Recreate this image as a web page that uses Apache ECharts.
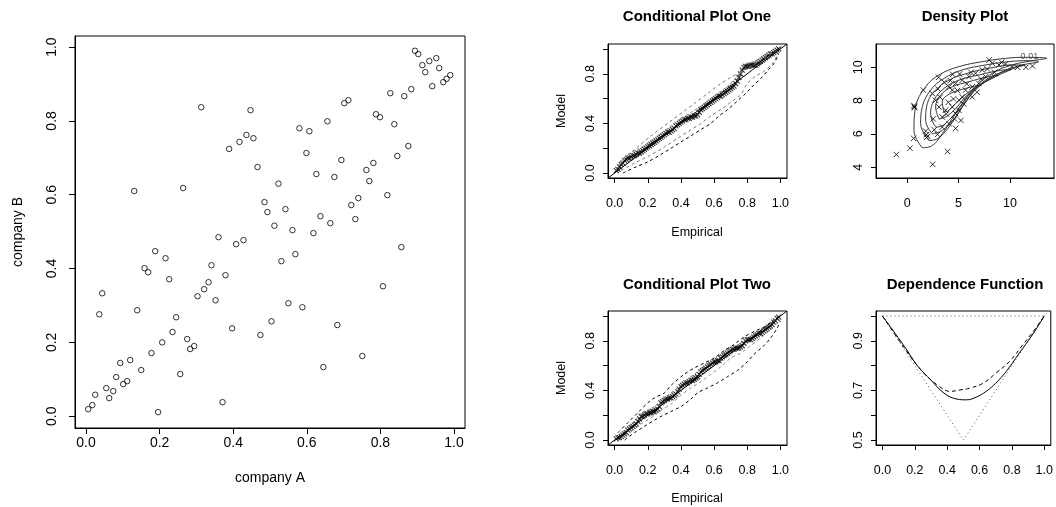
<!DOCTYPE html>
<html>
<head>
<meta charset="utf-8">
<script src="https://cdn.jsdelivr.net/npm/echarts@6/dist/echarts.min.js"></script>
<style>
html, body { margin: 0; padding: 0; background: #fff; }
#chart { width: 1056px; height: 507px; }
</style>
</head>
<body>
<div id="chart"></div>
<script>
// scatter: company A vs company B
var companyA = [0.313,0.447,0.436,0.455,0.417,0.389,0.466,0.523,0.131,0.264,0.485,0.493,0.542,0.512,0.561,0.618,0.637,0.664,0.721,0.732,0.740,0.531,0.569,0.857,0.807,0.550,0.588,0.504,0.474,0.683,0.751,0.645,0.360,0.408,0.428,0.341,0.379,0.333,0.321,0.303,0.352,0.397,0.371,0.188,0.216,0.159,0.169,0.226,0.139,0.044,0.036,0.245,0.235,0.207,0.275,0.283,0.294,0.178,0.256,0.150,0.120,0.093,0.082,0.112,0.101,0.055,0.074,0.063,0.025,0.017,0.006,0.196,0.894,0.903,0.914,0.933,0.952,0.922,0.960,0.941,0.971,0.980,0.990,0.827,0.865,0.884,0.702,0.713,0.788,0.799,0.838,0.656,0.580,0.607,0.599,0.694,0.626,0.675,0.781,0.762,0.770,0.846,0.876,0.819];
var companyB = [0.837,0.829,0.762,0.753,0.743,0.724,0.675,0.630,0.610,0.618,0.580,0.553,0.561,0.516,0.504,0.496,0.542,0.523,0.572,0.534,0.591,0.420,0.439,0.458,0.352,0.306,0.295,0.257,0.220,0.247,0.163,0.133,0.485,0.466,0.477,0.409,0.382,0.363,0.344,0.325,0.314,0.238,0.038,0.447,0.428,0.401,0.390,0.371,0.287,0.333,0.276,0.268,0.228,0.200,0.209,0.182,0.190,0.171,0.114,0.125,0.152,0.144,0.106,0.095,0.087,0.076,0.068,0.049,0.058,0.030,0.019,0.011,0.990,0.981,0.951,0.962,0.970,0.932,0.943,0.894,0.905,0.914,0.924,0.875,0.867,0.886,0.848,0.856,0.818,0.810,0.791,0.799,0.780,0.772,0.713,0.694,0.656,0.648,0.686,0.667,0.637,0.705,0.732,0.599];

// conditional plot one
var condX = [0.01,0.02,0.03,0.04,0.05,0.06,0.07,0.08,0.09,0.10,0.11,0.12,0.13,0.14,0.15,0.16,0.17,0.18,0.19,0.20,0.21,0.22,0.23,0.24,0.25,0.26,0.27,0.28,0.29,0.30,0.31,0.32,0.33,0.34,0.35,0.36,0.37,0.38,0.39,0.40,0.41,0.42,0.43,0.44,0.45,0.46,0.47,0.48,0.49,0.50,0.51,0.52,0.53,0.54,0.55,0.56,0.57,0.58,0.59,0.60,0.61,0.62,0.63,0.64,0.65,0.66,0.67,0.68,0.69,0.70,0.71,0.72,0.73,0.74,0.75,0.76,0.77,0.78,0.79,0.80,0.81,0.82,0.83,0.84,0.85,0.86,0.87,0.88,0.89,0.90,0.91,0.92,0.93,0.94,0.95,0.96,0.97,0.98,0.99];
var condOneY = [0.02,0.03,0.05,0.07,0.08,0.10,0.11,0.12,0.12,0.13,0.14,0.14,0.15,0.16,0.16,0.17,0.18,0.19,0.20,0.21,0.22,0.23,0.24,0.25,0.26,0.27,0.28,0.29,0.30,0.31,0.32,0.33,0.33,0.34,0.35,0.36,0.38,0.39,0.40,0.41,0.42,0.43,0.43,0.44,0.44,0.45,0.45,0.46,0.46,0.47,0.49,0.51,0.52,0.53,0.54,0.55,0.56,0.57,0.58,0.59,0.60,0.61,0.62,0.62,0.63,0.64,0.65,0.66,0.67,0.68,0.69,0.70,0.72,0.74,0.77,0.80,0.83,0.85,0.86,0.86,0.86,0.87,0.87,0.87,0.87,0.88,0.89,0.90,0.91,0.92,0.93,0.94,0.95,0.96,0.96,0.97,0.98,0.99,1.00];
var oneUpOutX = [0.01,0.06,0.13,0.22,0.34,0.42,0.48,0.56,0.64,0.70,0.78,0.86,0.92,0.98];
var oneUpOutY = [0.03,0.12,0.20,0.30,0.42,0.50,0.56,0.64,0.72,0.77,0.83,0.89,0.94,0.99];
var oneUpInX = [0.02,0.08,0.15,0.22,0.30,0.38,0.45,0.52,0.60,0.68,0.74,0.78,0.84,0.90,0.96];
var oneUpInY = [0.06,0.15,0.20,0.26,0.34,0.42,0.48,0.54,0.62,0.70,0.78,0.87,0.90,0.94,0.98];
var oneLoInX = [0.04,0.12,0.21,0.30,0.38,0.45,0.52,0.58,0.65,0.72,0.76,0.80,0.85,0.90,0.95,0.99];
var oneLoInY = [0.02,0.08,0.14,0.21,0.28,0.34,0.40,0.46,0.52,0.59,0.63,0.72,0.78,0.82,0.88,0.97];
var oneLoOutX = [0.05,0.13,0.20,0.28,0.34,0.40,0.46,0.52,0.58,0.63,0.68,0.74,0.79,0.84,0.88,0.92,0.96,0.99];
var oneLoOutY = [0.00,0.05,0.09,0.15,0.20,0.25,0.30,0.35,0.40,0.46,0.51,0.58,0.64,0.71,0.76,0.82,0.88,0.96];

// conditional plot two
var condTwoY = [0.01,0.02,0.02,0.03,0.04,0.05,0.06,0.08,0.09,0.10,0.11,0.12,0.13,0.15,0.17,0.19,0.19,0.20,0.21,0.21,0.22,0.22,0.23,0.23,0.24,0.25,0.27,0.30,0.31,0.32,0.33,0.33,0.34,0.34,0.35,0.36,0.37,0.39,0.41,0.43,0.44,0.45,0.46,0.46,0.47,0.48,0.48,0.49,0.50,0.51,0.53,0.55,0.56,0.57,0.58,0.59,0.60,0.61,0.62,0.63,0.63,0.64,0.64,0.66,0.67,0.68,0.69,0.70,0.71,0.72,0.73,0.73,0.74,0.74,0.74,0.75,0.76,0.78,0.80,0.81,0.81,0.81,0.82,0.83,0.84,0.85,0.86,0.86,0.87,0.88,0.89,0.90,0.91,0.92,0.93,0.95,0.96,0.98,0.99];
var twoUpOutX = [0.02,0.08,0.14,0.20,0.24,0.30,0.34,0.42,0.48,0.54,0.60,0.66,0.72,0.78,0.85,0.90,0.95,0.99];
var twoUpOutY = [0.06,0.14,0.22,0.30,0.34,0.38,0.44,0.53,0.58,0.62,0.66,0.72,0.77,0.83,0.88,0.91,0.95,0.99];
var twoUpInX = [0.04,0.10,0.16,0.24,0.30,0.38,0.44,0.50,0.56,0.62,0.68,0.76,0.84,0.92,0.98];
var twoUpInY = [0.05,0.12,0.21,0.27,0.34,0.42,0.49,0.55,0.61,0.67,0.72,0.78,0.85,0.92,0.98];
var twoLoInX = [0.04,0.10,0.16,0.22,0.28,0.34,0.40,0.46,0.52,0.58,0.64,0.70,0.76,0.82,0.88,0.94,0.99];
var twoLoInY = [0.01,0.07,0.13,0.18,0.24,0.29,0.36,0.42,0.47,0.53,0.59,0.66,0.70,0.76,0.82,0.89,0.97];
var twoLoOutX = [0.06,0.12,0.18,0.24,0.28,0.34,0.40,0.46,0.50,0.56,0.62,0.68,0.74,0.80,0.84,0.90,0.94,0.98,1.00];
var twoLoOutY = [0.00,0.06,0.11,0.16,0.19,0.23,0.27,0.33,0.38,0.42,0.46,0.51,0.56,0.63,0.69,0.76,0.82,0.90,0.96];

var diagLine = [-0.04, 1.04];

// density plot
var densX = [-1.07,0.26,0.62,0.65,0.71,0.68,1.56,1.79,1.85,1.88,2.00,2.47,2.63,2.53,3.05,2.95,3.93,4.42,4.71,5.23,7.98,10.75,11.56,12.20,2.44,2.76,3.08,3.41,3.73,4.06,4.38,4.71,5.03,5.36,5.68,6.01,6.33,6.66,6.98,7.31,7.63,8.28,8.93,9.58,10.20,4.38,4.71,4.06,3.41,5.03,5.36,6.33,3.20,3.60,4.00,4.50,4.90,5.50,5.80,6.20,6.80,7.20,7.80,8.50,9.20,4.20,3.00,5.10,4.60,3.80];
var densY = [4.76,5.14,5.73,7.70,7.58,7.64,8.63,6.17,5.95,5.79,5.85,4.17,6.25,6.90,9.40,5.97,4.94,9.58,6.33,6.81,10.44,10.00,10.00,10.08,8.43,8.02,7.62,7.01,7.42,8.83,8.63,9.03,8.02,9.23,8.63,9.44,8.83,9.64,9.03,9.84,9.44,10.24,10.14,10.20,10.04,7.62,7.22,6.61,6.41,7.42,8.22,8.22,8.20,9.10,7.90,8.10,8.60,7.80,9.00,9.70,8.50,9.30,9.90,9.70,10.30,9.20,8.70,9.60,6.90,7.20];
var contour1X = [1.46,0.65,0.81,1.79,3.08,5.03,7.31,9.58,11.5,13.6,12.2,10.2,8.28,6.33,4.71,3.41,2.44,1.46];
var contour1Y = [5.16,6.20,7.62,8.83,9.54,10.04,10.34,10.54,10.60,10.54,10.40,10.14,9.64,8.63,7.22,6.01,5.30,5.16];
var contour2X = [2.11,1.30,1.46,2.27,3.57,5.36,7.63,9.90,11.85,12.8,11.2,9.25,6.98,5.36,4.06,2.92,2.11];
var contour2Y = [5.60,6.61,7.62,8.63,9.33,9.84,10.14,10.34,10.40,10.34,10.14,9.74,8.83,7.62,6.41,5.70,5.60];
var contour3X = [2.44,1.79,1.95,2.76,4.06,5.84,7.95,10.2,11.5,9.90,7.63,6.00,4.71,3.41,2.44];
var contour3Y = [6.00,6.81,7.82,8.63,9.23,9.64,9.94,10.14,10.14,9.84,9.23,8.22,7.01,6.21,6.00];
var contour4X = [2.76,2.27,2.60,3.57,5.03,6.98,8.93,10.2,8.60,6.66,5.36,4.22,3.25,2.76];
var contour4Y = [6.41,7.22,8.02,8.73,9.23,9.54,9.80,9.88,9.44,8.73,7.82,6.92,6.45,6.41];
var contour5X = [3.08,2.76,3.25,4.38,6.00,7.63,8.93,7.31,5.84,4.71,3.73,3.08];
var contour5Y = [6.92,7.62,8.33,8.83,9.13,9.40,9.54,9.03,8.33,7.52,7.01,6.92];
var contour6X = [3.57,3.41,4.22,5.68,6.98,6.01,4.87,4.06,3.57];
var contour6Y = [7.32,7.92,8.43,8.73,8.93,8.53,7.92,7.42,7.32];
var contourLabel = '0.01';
var contourLabelPos = [11.9, 10.62];

// dependence function
var depSolidX = [0,0.057,0.137,0.218,0.299,0.38,0.46,0.52,0.58,0.64,0.70,0.764,0.844,0.925,1];
var depSolidY = [1,0.949,0.876,0.798,0.742,0.689,0.665,0.662,0.673,0.696,0.729,0.776,0.849,0.923,1];
var depDashX = [0,0.137,0.238,0.339,0.42,0.48,0.54,0.622,0.70,0.784,0.865,0.945,1];
var depDashY = [1,0.869,0.782,0.722,0.696,0.702,0.709,0.729,0.769,0.816,0.882,0.949,1];
var depUpperX = [0, 1];
var depUpperY = [1, 1];
var depLowerX = [0, 0.5, 1];
var depLowerY = [1, 0.5, 1];

// tick labels
var unitTicks = [0, 0.2, 0.4, 0.6, 0.8, 1.0];
var condYLabels = [0, 0.4, 0.8];
var densXTicks = [0, 5, 10];
var densYTicks = [4, 6, 8, 10];
var depYTicks = [0.5, 0.6, 0.7, 0.8, 0.9, 1.0];
var depYLabels = [0.5, 0.7, 0.9];

function zip(xs, ys) {
    var res = [];
    for (var i = 0; i < xs.length; i++) res.push([xs[i], ys[i]]);
    return res;
}

var FONT = '"Liberation Sans", Arial, Helvetica, sans-serif';
var one = function(v) { return Number(v).toFixed(1); };
var whole = function(v) { return String(Math.round(v)); };

var grids = [
    {left: 75, top: 36, width: 390, height: 392},
    {left: 608, top: 44, width: 179, height: 134},
    {left: 876, top: 44, width: 178, height: 134},
    {left: 608, top: 311, width: 179, height: 134},
    {left: 876, top: 311, width: 178, height: 134}
];
grids.forEach(function(g) {
    g.show = true;
    g.borderColor = '#000';
    g.borderWidth = 1;
    g.backgroundColor = 'transparent';
    g.containLabel = false;
});

function axis(gi, min, max, ticks, labels, fmt, o) {
    return {
        type: 'value', gridIndex: gi, min: min, max: max,
        splitLine: {show: false},
        axisLine: {show: true, onZero: false, lineStyle: {color: '#000', width: 1}},
        axisTick: {show: true, inside: false, length: o.tick, customValues: ticks,
                   lineStyle: {color: '#000', width: 1}},
        axisLabel: {show: true, customValues: labels, formatter: fmt, margin: o.margin,
                    rotate: o.rotate || 0, color: '#000', fontSize: o.size, fontFamily: FONT}
    };
}

var bigX = {tick: 6, margin: 8, size: 14};
var bigY = {tick: 6, margin: 16, size: 14, rotate: 90};
var smX = {tick: 5, margin: 19, size: 12.5};
var smY = {tick: 5, margin: 11, size: 12.5, rotate: 90};

var xAxes = [
    axis(0, -0.03, 1.03, unitTicks, unitTicks, one, bigX),
    axis(1, -0.04, 1.04, unitTicks, unitTicks, one, smX),
    axis(2, -3.05, 14.3, densXTicks, densXTicks, whole, smX),
    axis(3, -0.04, 1.04, unitTicks, unitTicks, one, smX),
    axis(4, -0.04, 1.04, unitTicks, unitTicks, one, smX)
];
var yAxes = [
    axis(0, -0.032, 1.03, unitTicks, unitTicks, one, bigY),
    axis(1, -0.04, 1.04, unitTicks, condYLabels, one, smY),
    axis(2, 3.35, 11.4, densYTicks, densYTicks, whole, smY),
    axis(3, -0.04, 1.04, unitTicks, condYLabels, one, smY),
    axis(4, 0.48, 1.02, depYTicks, depYLabels, one, smY)
];

var crossPath = 'path://M0,0L10,10M10,0L0,10';

function crosses(gi, data, size, bw) {
    return {
        type: 'scatter', xAxisIndex: gi, yAxisIndex: gi, data: data,
        symbol: crossPath, symbolSize: size, silent: true,
        itemStyle: {color: 'rgba(0,0,0,0)', borderColor: '#000', borderWidth: bw}
    };
}

function line(gi, data, color, width, type, smooth) {
    return {
        type: 'line', xAxisIndex: gi, yAxisIndex: gi, data: data,
        symbol: 'none', showSymbol: false, silent: true, smooth: smooth || false,
        lineStyle: {color: color, width: width, type: type}
    };
}

var series = [
    {
        type: 'scatter', xAxisIndex: 0, yAxisIndex: 0,
        data: zip(companyA, companyB),
        symbol: 'circle', symbolSize: 5.5, silent: true,
        itemStyle: {color: 'rgba(0,0,0,0)', borderColor: '#000', borderWidth: 1}
    },
    // conditional plot one
    line(1, zip(diagLine, diagLine), '#000', 1, 'solid'),
    line(1, zip(oneUpOutX, oneUpOutY), '#777', 1, [3, 3], 0.3),
    line(1, zip(oneUpInX, oneUpInY), '#888', 1, [3, 2], 0.3),
    line(1, zip(oneLoInX, oneLoInY), '#777', 1, [3, 3], 0.3),
    line(1, zip(oneLoOutX, oneLoOutY), '#000', 1, [3, 3], 0.3),
    crosses(1, zip(condX, condOneY), 5, 1.1),
    // conditional plot two
    line(3, zip(diagLine, diagLine), '#000', 1, 'solid'),
    line(3, zip(twoUpOutX, twoUpOutY), '#000', 1, [3, 3], 0.3),
    line(3, zip(twoUpInX, twoUpInY), '#777', 1, [3, 2], 0.3),
    line(3, zip(twoLoInX, twoLoInY), '#888', 1, [3, 3], 0.3),
    line(3, zip(twoLoOutX, twoLoOutY), '#000', 1, [3, 3], 0.3),
    crosses(3, zip(condX, condTwoY), 5, 1.1),
    // density plot
    line(2, zip(contour1X, contour1Y), '#222', 0.9, 'solid', 0.4),
    line(2, zip(contour2X, contour2Y), '#222', 0.9, 'solid', 0.4),
    line(2, zip(contour3X, contour3Y), '#222', 0.9, 'solid', 0.4),
    line(2, zip(contour4X, contour4Y), '#222', 0.9, 'solid', 0.4),
    line(2, zip(contour5X, contour5Y), '#222', 0.9, 'solid', 0.4),
    line(2, zip(contour6X, contour6Y), '#222', 0.9, 'solid', 0.4),
    crosses(2, zip(densX, densY), 5.5, 1),
    {
        type: 'scatter', xAxisIndex: 2, yAxisIndex: 2, silent: true,
        data: [contourLabelPos], symbolSize: 0,
        label: {show: true, position: 'inside', formatter: contourLabel,
                color: '#333', fontSize: 9, fontFamily: FONT}
    },
    // dependence function
    line(4, zip(depUpperX, depUpperY), '#555', 1, [1, 3]),
    line(4, zip(depLowerX, depLowerY), '#555', 1, [1, 3]),
    line(4, zip(depDashX, depDashY), '#000', 1, [4, 3], 0.4),
    line(4, zip(depSolidX, depSolidY), '#000', 1, 'solid', 0.4)
];

function txt(x, y, s, size, bold, rot) {
    return {
        type: 'text', x: x, y: y, rotation: rot || 0, silent: true,
        style: {text: s, fill: '#000', align: 'center', verticalAlign: 'middle',
                font: (bold ? 'bold ' : '') + size + 'px ' + FONT}
    };
}

var graphics = [
    txt(270, 478, 'company A', 14, false),
    txt(18, 232, 'company B', 14, false, Math.PI / 2),
    txt(697, 17, 'Conditional Plot One', 15, true),
    txt(965, 17, 'Density Plot', 15, true),
    txt(697, 285, 'Conditional Plot Two', 15, true),
    txt(965, 285, 'Dependence Function', 15, true),
    txt(697, 233, 'Empirical', 12.5, false),
    txt(697, 499, 'Empirical', 12.5, false),
    txt(562, 111, 'Model', 12.5, false, Math.PI / 2),
    txt(562, 378, 'Model', 12.5, false, Math.PI / 2)
];

var chart = echarts.init(document.getElementById('chart'), null, {renderer: 'canvas'});
chart.setOption({
    animation: false,
    backgroundColor: '#fff',
    textStyle: {fontFamily: FONT, color: '#000'},
    grid: grids,
    xAxis: xAxes,
    yAxis: yAxes,
    series: series,
    graphic: graphics
});

window.onresize = function() {
    chart.resize();
};
</script>
</body>
</html>
